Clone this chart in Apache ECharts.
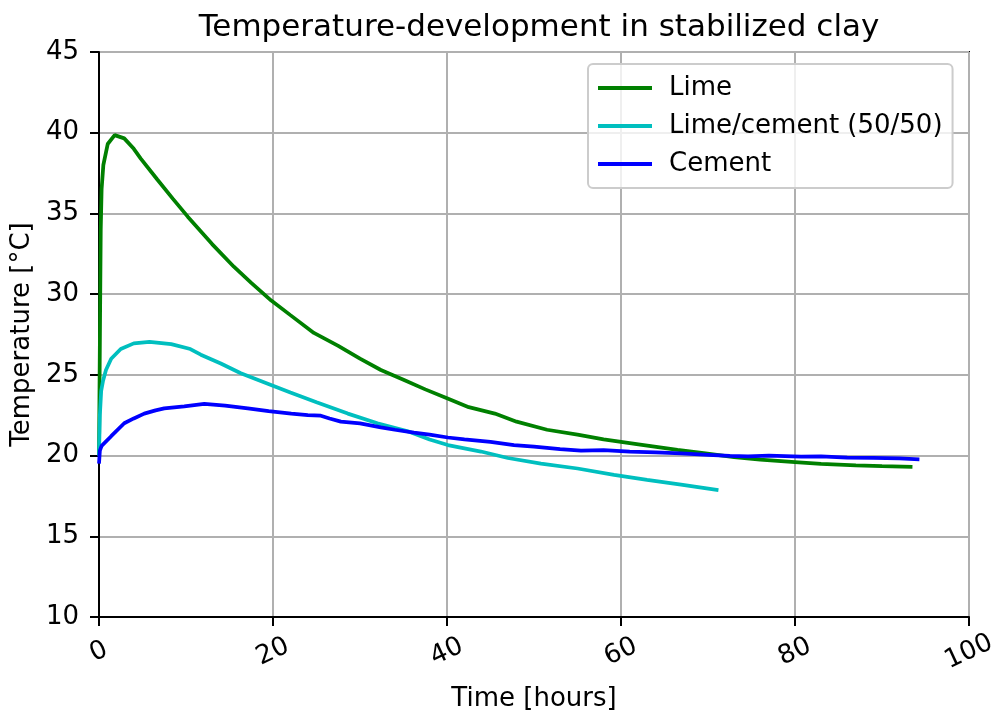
<!DOCTYPE html>
<html>
<head>
<meta charset="utf-8">
<script src="https://cdn.jsdelivr.net/npm/echarts@6/dist/echarts.min.js"></script>
<style>
  html, body { margin: 0; padding: 0; background: #fff; }
  #chart { width: 991px; height: 714px; }
</style>
</head>
<body>
<div id="chart"></div>
<script>
// values
var limeHours = [0, 0.1, 0.2, 0.3, 0.5, 1.0, 1.8, 2.9, 4, 4.8, 6.7, 8.5, 10.2, 13, 15.5, 17.5, 19.8, 22, 24.7, 27.5, 30, 32.4, 35, 37.5, 40, 42.5, 45.5, 48, 51.5, 55, 58, 62, 66.5, 69.5, 73, 76, 80, 83, 87, 90, 93.5];
var limeTemp = [20.0, 27, 34, 36.5, 38.0, 39.3, 39.85, 39.65, 39.0, 38.4, 37.1, 35.9, 34.8, 33.1, 31.7, 30.7, 29.6, 28.7, 27.6, 26.8, 26.0, 25.3, 24.7, 24.1, 23.55, 23.0, 22.6, 22.1, 21.6, 21.3, 21.0, 20.7, 20.35, 20.15, 19.9, 19.75, 19.6, 19.48, 19.4, 19.35, 19.3];

var mixHours = [0, 0.1, 0.25, 0.45, 0.8, 1.4, 2.5, 4, 5.8, 8.3, 10.5, 11.7, 14, 16.3, 19.4, 22, 25, 28.6, 32, 35.5, 38, 40.1, 43.9, 47, 50.8, 55, 59.2, 63, 66.9, 71.2];
var mixTemp = [20.0, 22.5, 24.0, 24.6, 25.3, 26.0, 26.6, 26.95, 27.05, 26.9, 26.6, 26.25, 25.7, 25.1, 24.45, 23.9, 23.3, 22.6, 22.0, 21.5, 21.0, 20.65, 20.25, 19.85, 19.5, 19.2, 18.8, 18.5, 18.2, 17.86];

var cementHours = [0, 0.1, 0.3, 1.4, 2.9, 4, 5.2, 6.5, 7.5, 9.8, 12.1, 14.5, 17.1, 19.5, 22.1, 24, 25.5, 26.5, 27.8, 30, 32.4, 34, 36.2, 38, 40.1, 42, 45, 47.7, 50, 53, 55.4, 58, 61, 64, 66.9, 70, 72.5, 74.6, 77, 80.7, 83, 86, 89, 92, 94.3];
var cementTemp = [19.5, 20.3, 20.6, 21.2, 22.0, 22.3, 22.6, 22.8, 22.92, 23.05, 23.2, 23.1, 22.92, 22.75, 22.6, 22.5, 22.47, 22.3, 22.1, 22.0, 21.75, 21.6, 21.42, 21.3, 21.12, 21.0, 20.85, 20.65, 20.55, 20.4, 20.3, 20.33, 20.25, 20.2, 20.13, 20.05, 19.98, 19.95, 20.0, 19.93, 19.95, 19.88, 19.85, 19.82, 19.77];

var seriesNames = ['Lime', 'Lime/cement (50/50)', 'Cement'];
var seriesColors = ['#008000', '#00bfbf', '#0000ff'];

function pairs(xs, ys) {
  return xs.map(function (x, i) { return [x, ys[i]]; });
}

var chart = echarts.init(document.getElementById('chart'));
var font = 'DejaVu Sans';

var option = {
  animation: false,
  backgroundColor: '#fff',
  title: {
    text: 'Temperature-development in stabilized clay',
    left: 534,
    textAlign: 'center',
    top: 7,
    textStyle: { fontFamily: font, fontSize: 31, fontWeight: 'normal', color: '#000' }
  },
  legend: {
    data: seriesNames,
    orient: 'vertical',
    left: 588,
    top: 64,
    icon: 'rect',
    itemWidth: 54,
    itemHeight: 4,
    itemGap: 12,
    padding: [11, 10, 11, 10],
    backgroundColor: 'rgba(255,255,255,0.8)',
    borderColor: '#cccccc',
    borderWidth: 2,
    borderRadius: 5,
    textStyle: { fontFamily: font, fontSize: 26, color: '#000', padding: [0, 0, 0, 12] }
  },
  grid: {
    left: 99, right: 22, top: 52, bottom: 97,
    outerBoundsMode: 'none',
    containLabel: false,
    show: true,
    borderColor: '#000',
    borderWidth: 2
  },
  xAxis: {
    type: 'value',
    min: 0, max: 100, interval: 20,
    name: 'Time [hours]',
    nameLocation: 'middle',
    nameGap: 69,
    nameTextStyle: { fontFamily: font, fontSize: 26, color: '#000' },
    axisLine: { show: true, lineStyle: { color: '#000', width: 2 } },
    axisTick: { show: true, length: 9, lineStyle: { color: '#000', width: 2 } },
    axisLabel: { rotate: 25, align: 'center', verticalAlign: 'middle', margin: 35, fontFamily: font, fontSize: 26, color: '#000' },
    splitLine: { show: true, lineStyle: { color: '#b0b0b0', width: 2 } }
  },
  yAxis: {
    type: 'value',
    min: 10, max: 45, interval: 5,
    name: 'Temperature [°C]',
    nameLocation: 'middle',
    nameGap: 63,
    nameTextStyle: { fontFamily: font, fontSize: 26, color: '#000' },
    axisLine: { show: true, lineStyle: { color: '#000', width: 2 } },
    axisTick: { show: true, length: 9, lineStyle: { color: '#000', width: 2 } },
    axisLabel: { margin: 20, fontFamily: font, fontSize: 26, color: '#000' },
    splitLine: { show: true, lineStyle: { color: '#b0b0b0', width: 2 } }
  },
  series: [
    { name: seriesNames[0], type: 'line', data: pairs(limeHours, limeTemp) },
    { name: seriesNames[1], type: 'line', data: pairs(mixHours, mixTemp) },
    { name: seriesNames[2], type: 'line', data: pairs(cementHours, cementTemp) }
  ].map(function (s, i) {
    s.showSymbol = false;
    s.symbol = 'none';
    s.color = seriesColors[i];
    s.lineStyle = { color: seriesColors[i], width: 3.75 };
    s.z = 3 + i;
    return s;
  })
};

chart.setOption(option);
</script>
</body>
</html>
